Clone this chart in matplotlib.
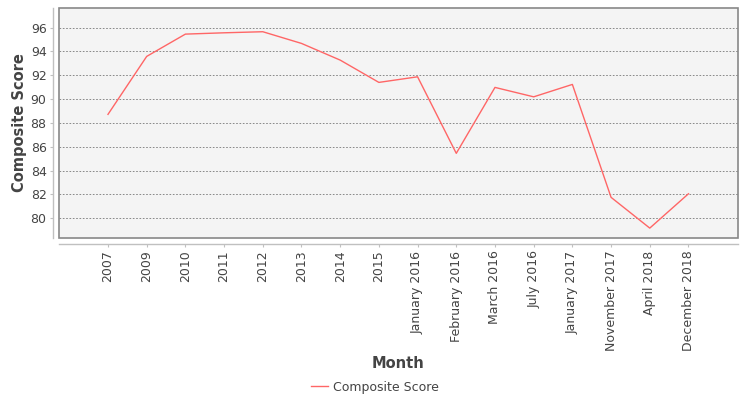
import matplotlib
matplotlib.use("Agg")
import matplotlib.pyplot as plt
from matplotlib.patches import Rectangle

months = ["2007", "2009", "2010", "2011", "2012", "2013", "2014", "2015",
          "January 2016", "February 2016", "March 2016", "July 2016",
          "January 2017", "November 2017", "April 2018", "December 2018"]
composite_score = [88.72, 93.58, 95.45, 95.56, 95.65, 94.67, 93.27, 91.40,
                   91.87, 85.45, 90.98, 90.19, 91.23, 81.76, 79.18, 82.06]
y_ticks = [80, 82, 84, 86, 88, 90, 92, 94, 96]

plt.rcParams['font.family'] = ['DejaVu Sans']
fig = plt.figure(figsize=(7.5, 4.0), dpi=100)
ax = fig.add_axes([59/750, 1 - 238/400, 679/750, 230/400])
ax.set_facecolor('#f4f4f4')

x = list(range(len(months)))
ax.plot(x, composite_score, color='#ff6666', linewidth=1.0, label='Composite Score')

ax.set_xlim(-1.266, 16.28)
ax.set_ylim(78.35, 97.64)
ax.set_yticks(y_ticks)
ax.set_xticks(x)
ax.set_xticklabels(months)

ax.yaxis.grid(True, color='#777777', linestyle=(0, (2, 2)), linewidth=0.6)
ax.set_axisbelow(True)

for s in ['top', 'right']:
    ax.spines[s].set_visible(False)
for s in ['left', 'bottom']:
    ax.spines[s].set_position(('outward', 4))
    ax.spines[s].set_color('#c0c0c0')
    ax.spines[s].set_linewidth(1.0)
ax.add_patch(Rectangle((0, 0), 1, 1, transform=ax.transAxes, fill=False,
                       edgecolor='#888888', linewidth=1.2, clip_on=False, zorder=5))

ax.tick_params(axis='both', labelsize=9, labelcolor='#444444', color='#c0c0c0',
               length=2, width=0.8, pad=3)
ax.tick_params(axis='x', labelrotation=90)

fig.text(20/750, 1 - 123/400, 'Composite Score', rotation=90, ha='center', va='center',
         fontsize=10.5, fontweight='bold', color='#444444')
fig.text(398/750, 1 - 363/400, 'Month', ha='center', va='center',
         fontsize=10.5, fontweight='bold', color='#444444')

leg = fig.legend(loc='center', bbox_to_anchor=(375/750, 1 - 387/400), frameon=False,
                 fontsize=9, handlelength=1.3, handletextpad=0.4)
for t in leg.get_texts():
    t.set_color('#444444')

fig.savefig('out.png', dpi=100)
